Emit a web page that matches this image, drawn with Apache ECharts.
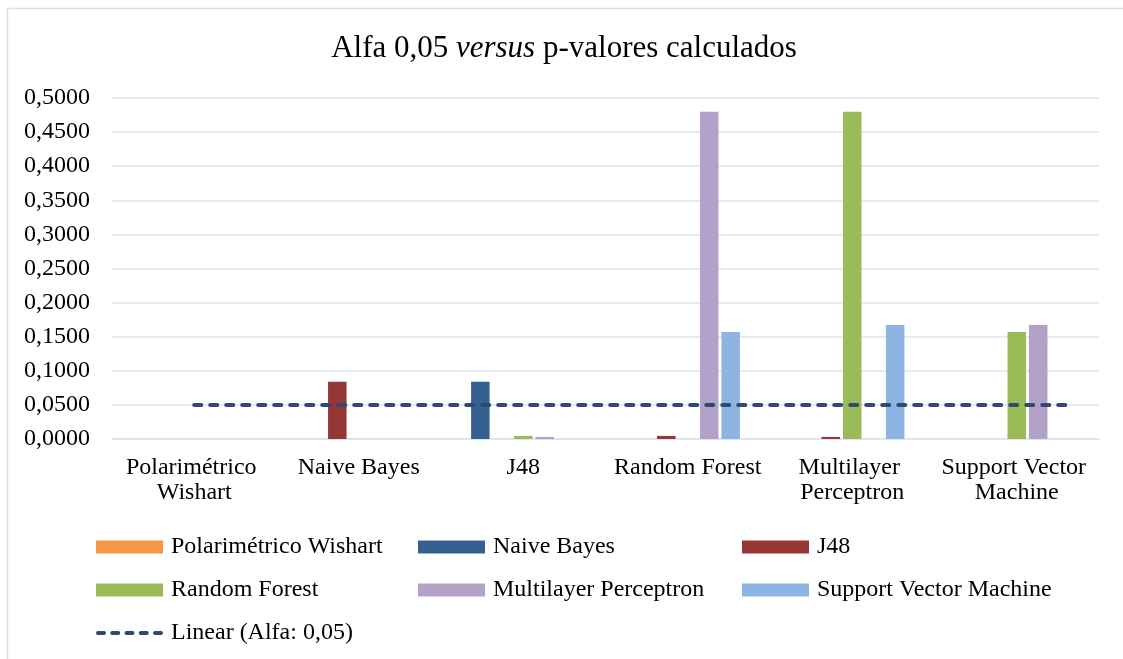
<!DOCTYPE html>
<html>
<head>
<meta charset="utf-8">
<script src="https://cdn.jsdelivr.net/npm/echarts@6/dist/echarts.min.js"></script>
<style>
  html, body { margin: 0; padding: 0; background: #ffffff; }
  #chart { width: 1123px; height: 659px; }
</style>
</head>
<body>
<div id="chart"></div>
<script>
// Classifiers compared pairwise (categories and series share the same names)
const categories = ['Polarimétrico Wishart', 'Naive Bayes', 'J48', 'Random Forest', 'Multilayer Perceptron', 'Support Vector Machine'];

// p-values of each classifier against every category
const wishartValues = [0, 0, 0, 0, 0, 0];
const naiveBayesValues = [0, 0, 0.084, 0, 0, 0];
const j48Values = [0, 0.084, 0, 0.0045, 0.003, 0];
const randomForestValues = [0, 0, 0.0045, 0, 0.48, 0.157];
const multilayerValues = [0, 0, 0.003, 0.48, 0, 0.167];
const svmValues = [0, 0, 0, 0.157, 0.167, 0];

// Significance level series (unfilled bars) and its linear trend
const alphaValues = [0.05, 0.05, 0.05, 0.05, 0.05, 0.05];
const alphaTrend = [[1, 0.05], [6.3, 0.05]];

// Value axis ticks
const yMin = 0, yMax = 0.5, yStep = 0.05;

const FONT = 'Liberation Serif, Times New Roman, serif';
const GRID_COLOR = '#D9E4F3';
const TREND_COLOR = '#2C4A74';

// Dashed-line legend glyph: five rounded dashes in a 67x13 box
function dashedIcon() {
  const starts = [0, 14.25, 28.5, 42.75, 57];
  const len = 10, y0 = 4.5, y1 = 8.5, r = 2;
  let d = 'M0 0 L0 0.01 Z M67 13 L67 12.99 Z ';
  starts.forEach(x0 => {
    const x1 = x0 + len;
    d += `M${x0 + r} ${y0} L${x1 - r} ${y0} A${r} ${r} 0 0 1 ${x1 - r} ${y1} L${x0 + r} ${y1} A${r} ${r} 0 0 1 ${x0 + r} ${y0} Z `;
  });
  return 'path://' + d.trim();
}

const seriesDefs = [
  { name: 'Polarimétrico Wishart', data: wishartValues, color: '#F79646' },
  { name: 'Naive Bayes', data: naiveBayesValues, color: '#366092' },
  { name: 'J48', data: j48Values, color: '#953735' },
  { name: 'Random Forest', data: randomForestValues, color: '#9BBB59' },
  { name: 'Multilayer Perceptron', data: multilayerValues, color: '#B3A2C7' },
  { name: 'Support Vector Machine', data: svmValues, color: '#8EB4E3' }
];

const series = seriesDefs.map(s => ({
  name: s.name,
  type: 'bar',
  data: s.data,
  barWidth: 18.5,
  barGap: '16%',
  itemStyle: { color: s.color },
  emphasis: { disabled: true }
}));

series.push({
  name: 'Alfa: 0,05',
  type: 'bar',
  data: alphaValues,
  barWidth: 18.5,
  itemStyle: { color: 'rgba(0,0,0,0)' },
  emphasis: { disabled: true }
});

series.push({
  name: 'Linear (Alfa: 0,05)',
  type: 'line',
  xAxisIndex: 1,
  data: alphaTrend,
  symbol: 'none',
  lineStyle: { color: TREND_COLOR, width: 4, type: [7, 9], cap: 'round' },
  itemStyle: { color: TREND_COLOR },
  z: 5
});

const legendCommon = {
  orient: 'vertical',
  top: 535,
  padding: 0,
  itemWidth: 67,
  itemHeight: 13,
  itemGap: 19,
  selectedMode: false,
  textStyle: { fontFamily: FONT, fontSize: 24, color: '#000', lineHeight: 23, padding: [0, 0, 0, 3] }
};

const chart = echarts.init(document.getElementById('chart'), null, { renderer: 'canvas' });
chart.setOption({
  animation: false,
  backgroundColor: '#ffffff',
  title: {
    text: 'Alfa 0,05 {i|versus} p-valores calculados',
    left: 559,
    top: 28,
    textAlign: 'center',
    textStyle: {
      fontFamily: FONT, fontSize: 31, fontWeight: 'normal', color: '#000',
      rich: { i: { fontFamily: FONT, fontSize: 31, fontStyle: 'italic', color: '#000' } }
    }
  },
  graphic: [{
    type: 'rect',
    silent: true,
    shape: { x: 7.5, y: 8.5, width: 1300, height: 800 },
    style: { fill: 'none', stroke: '#D5E1F1', lineWidth: 1.5 }
  }],
  grid: { left: 112, right: 24, top: 98, bottom: 220, containLabel: false },
  xAxis: [{
    type: 'category',
    data: categories,
    axisTick: { show: false },
    axisLine: { lineStyle: { color: GRID_COLOR, width: 1.5 } },
    axisLabel: {
      interval: 0,
      margin: 16,
      width: 162,
      overflow: 'break',
      fontFamily: FONT, fontSize: 24, lineHeight: 25, color: '#000'
    }
  }, {
    type: 'value',
    min: 0.5,
    max: 6.5,
    show: false
  }],
  yAxis: {
    type: 'value',
    min: yMin,
    max: yMax,
    interval: yStep,
    axisLine: { show: false },
    axisTick: { show: false },
    splitLine: { lineStyle: { color: GRID_COLOR, width: 1.5 } },
    axisLabel: {
      margin: 22,
      fontFamily: FONT, fontSize: 24, color: '#000',
      formatter: v => v.toFixed(4).replace('.', ',')
    }
  },
  legend: [
    Object.assign({}, legendCommon, { left: 96, data: [
      { name: 'Polarimétrico Wishart', icon: 'rect' },
      { name: 'Random Forest', icon: 'rect' },
      { name: 'Linear (Alfa: 0,05)', icon: dashedIcon(), itemStyle: { color: TREND_COLOR } }
    ] }),
    Object.assign({}, legendCommon, { left: 418, data: [
      { name: 'Naive Bayes', icon: 'rect' },
      { name: 'Multilayer Perceptron', icon: 'rect' }
    ] }),
    Object.assign({}, legendCommon, { left: 742, data: [
      { name: 'J48', icon: 'rect' },
      { name: 'Support Vector Machine', icon: 'rect' }
    ] })
  ],
  series: series
});
</script>
</body>
</html>
